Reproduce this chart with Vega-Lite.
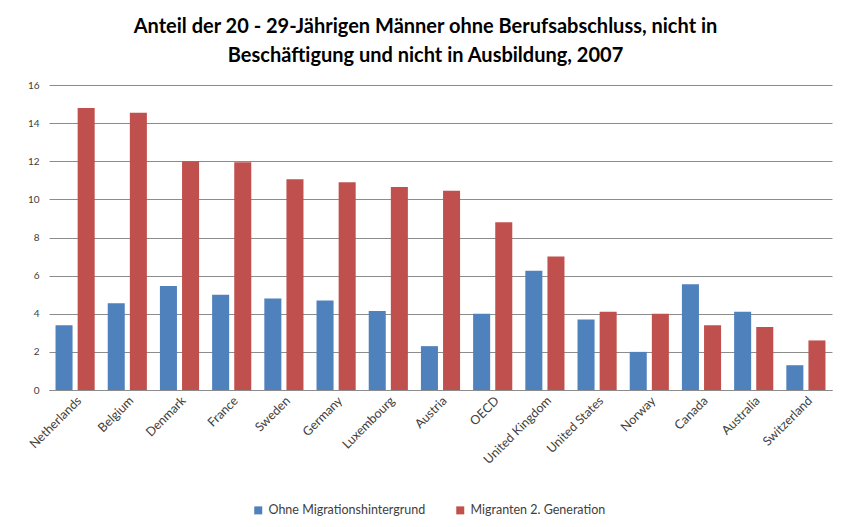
{
  "$schema": "https://vega.github.io/schema/vega-lite/v6.json",
  "width": 783,
  "height": 305,
  "autosize": {"type": "none"},
  "padding": {"left": 49, "top": 85, "right": 18, "bottom": 137},
  "background": "white",
  "title": {
    "text": ["Anteil der 20 - 29-Jährigen Männer ohne Berufsabschluss, nicht in", "Beschäftigung und nicht in Ausbildung, 2007"],
    "font": "Lato",
    "fontSize": 20,
    "fontWeight": "bold",
    "color": "#000000",
    "lineHeight": 29,
    "anchor": "middle",
    "dx": -15,
    "offset": 14
  },
  "data": {
    "values": [
      {"country": "Netherlands", "series": "Ohne Migrationshintergrund", "value": 3.4},
      {"country": "Netherlands", "series": "Migranten 2. Generation", "value": 14.8},
      {"country": "Belgium", "series": "Ohne Migrationshintergrund", "value": 4.55},
      {"country": "Belgium", "series": "Migranten 2. Generation", "value": 14.55},
      {"country": "Denmark", "series": "Ohne Migrationshintergrund", "value": 5.45},
      {"country": "Denmark", "series": "Migranten 2. Generation", "value": 12.0},
      {"country": "France", "series": "Ohne Migrationshintergrund", "value": 5.0},
      {"country": "France", "series": "Migranten 2. Generation", "value": 11.95},
      {"country": "Sweden", "series": "Ohne Migrationshintergrund", "value": 4.8},
      {"country": "Sweden", "series": "Migranten 2. Generation", "value": 11.05},
      {"country": "Germany", "series": "Ohne Migrationshintergrund", "value": 4.7},
      {"country": "Germany", "series": "Migranten 2. Generation", "value": 10.9},
      {"country": "Luxembourg", "series": "Ohne Migrationshintergrund", "value": 4.15},
      {"country": "Luxembourg", "series": "Migranten 2. Generation", "value": 10.65},
      {"country": "Austria", "series": "Ohne Migrationshintergrund", "value": 2.3},
      {"country": "Austria", "series": "Migranten 2. Generation", "value": 10.45},
      {"country": "OECD", "series": "Ohne Migrationshintergrund", "value": 4.0},
      {"country": "OECD", "series": "Migranten 2. Generation", "value": 8.8},
      {"country": "United Kingdom", "series": "Ohne Migrationshintergrund", "value": 6.25},
      {"country": "United Kingdom", "series": "Migranten 2. Generation", "value": 7.0},
      {"country": "United States", "series": "Ohne Migrationshintergrund", "value": 3.7},
      {"country": "United States", "series": "Migranten 2. Generation", "value": 4.1},
      {"country": "Norway", "series": "Ohne Migrationshintergrund", "value": 2.0},
      {"country": "Norway", "series": "Migranten 2. Generation", "value": 4.0},
      {"country": "Canada", "series": "Ohne Migrationshintergrund", "value": 5.55},
      {"country": "Canada", "series": "Migranten 2. Generation", "value": 3.4},
      {"country": "Australia", "series": "Ohne Migrationshintergrund", "value": 4.1},
      {"country": "Australia", "series": "Migranten 2. Generation", "value": 3.3},
      {"country": "Switzerland", "series": "Ohne Migrationshintergrund", "value": 1.3},
      {"country": "Switzerland", "series": "Migranten 2. Generation", "value": 2.6}
    ]
  },
  "mark": {"type": "bar"},
  "encoding": {
    "x": {
      "field": "country",
      "type": "nominal",
      "sort": null,
      "title": null,
      "scale": {"paddingInner": 0.25, "paddingOuter": 0.125},
      "axis": {
        "labelAngle": -45,
        "labelAlign": "right",
        "labelBaseline": "top",
        "labelFont": "Lato",
        "labelFontSize": 12.5,
        "labelColor": "#404040",
        "labelPadding": 4,
        "ticks": false,
        "domainColor": "#8c8c8c",
        "grid": false
      }
    },
    "xOffset": {
      "field": "series",
      "type": "nominal",
      "sort": ["Ohne Migrationshintergrund", "Migranten 2. Generation"],
      "scale": {"paddingInner": 0.23}
    },
    "y": {
      "field": "value",
      "type": "quantitative",
      "title": null,
      "scale": {"domain": [0, 16]},
      "axis": {
        "values": [0, 2, 4, 6, 8, 10, 12, 14, 16],
        "labelFont": "Lato",
        "labelFontSize": 10,
        "labelColor": "#404040",
        "labelPadding": 10,
        "ticks": false,
        "domain": false,
        "grid": true,
        "gridColor": "#8c8c8c",
        "gridOpacity": 1
      }
    },
    "color": {
      "field": "series",
      "type": "nominal",
      "scale": {
        "domain": ["Ohne Migrationshintergrund", "Migranten 2. Generation"],
        "range": ["#4f81bd", "#c0504d"]
      },
      "legend": {
        "title": null,
        "orient": "none",
        "direction": "horizontal",
        "legendX": 203,
        "legendY": 419,
        "symbolType": "square",
        "symbolSize": 64,
        "symbolStrokeWidth": 0,
        "labelFont": "Lato",
        "labelFontSize": 12.5,
        "labelColor": "#404040",
        "columnPadding": 28
      }
    }
  },
  "config": {
    "view": {"stroke": null}
  }
}
